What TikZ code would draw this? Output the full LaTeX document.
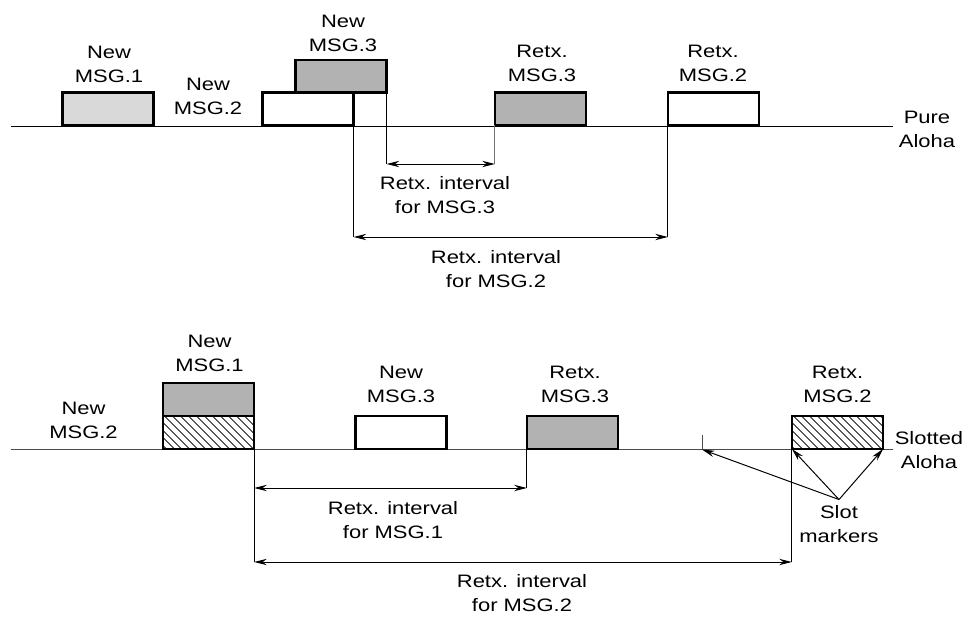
\documentclass[tikz,border=0pt]{standalone}
\usepackage{fontspec}
\setmainfont{Liberation Sans}[FakeStretch=1.22]
\usetikzlibrary{arrows.meta}
\usetikzlibrary{patterns.meta}
\tikzset{
	msgstyle/.style={draw=black, line width=1.6pt, minimum width=2.28cm, minimum height=0.82cm, inner sep=0pt, outer sep=0pt},
	whitestyle/.style={msgstyle, fill=white},
	lightstyle/.style={msgstyle, fill=black!15},
	darkstyle/.style={msgstyle, fill=black!30},
	hatchstyle/.style={msgstyle, pattern={Lines[angle=-45, distance=4pt, line width=0.6pt]}},
	labelstyle/.style={align=center, inner sep=1pt},
	thinline/.style={line width=0.7pt},
	>={Stealth[length=9pt, width=4.5pt]}
}

\begin{document}
\begin{tikzpicture}[x=0.025cm, y=-0.025cm, font=\fontsize{12.8}{17}\selectfont]
	\useasboundingbox (0,0) rectangle (970,617);
	% pure aloha
	\coordinate (pa) at (11,126);
	\coordinate (pb) at (893,126);
	\draw[thinline] (pa) -- (pb);
	\node[lightstyle] (n1) at (108,109) {};
	\node[whitestyle] (n2) at (308,109) {};
	\node[darkstyle, anchor=south] (n3) at (341,92.6) {};
	\node[darkstyle] (r3) at (540.5,109) {};
	\node[whitestyle] (r2) at (713.5,109) {};
	\node[labelstyle] (ln1) at (109,64) {New\\MSG.1};
	\node[labelstyle] (ln2) at (208,96) {New\\MSG.2};
	\node[labelstyle] (ln3) at (343,33) {New\\MSG.3};
	\node[labelstyle] (lr3) at (542,63) {Retx.\\MSG.3};
	\node[labelstyle] (lr2) at (713,63) {Retx.\\MSG.2};
	\node[labelstyle] (pure) at (927,129) {Pure\\Aloha};
	\coordinate (i3a) at (n3.south east |- 0,164);
	\coordinate (i3b) at (r3.south west |- 0,164);
	\coordinate (i2a) at (n2.south east |- 0,237);
	\coordinate (i2b) at (r2.south west |- 0,237);
	\draw[thinline] (n3.south east) -- (i3a);
	\draw[thinline, black!55] (r3.south west) -- (i3b);
	\draw[thinline, <->] (i3a) -- (i3b);
	\draw[thinline] (n2.south east) -- (i2a);
	\draw[thinline] (r2.south west) -- (i2b);
	\draw[thinline, <->] (i2a) -- (i2b);
	\node[labelstyle] (li3) at (445,195) {Retx. interval\\for MSG.3};
	\node[labelstyle] (li2) at (496,269) {Retx. interval\\for MSG.2};
	% slotted aloha
	\coordinate (sa) at (11,449.5);
	\coordinate (sb) at (893,449.5);
	\draw[thinline, black!70] (sa) -- (sb);
	\node[hatchstyle] (s2) at (208.5,432.5) {};
	\node[darkstyle, anchor=south] (s1) at (s2.north) {};
	\node[whitestyle] (s3) at (401,432.5) {};
	\node[darkstyle] (t3) at (572.5,432.5) {};
	\node[hatchstyle] (t2) at (837.5,432.5) {};
	\coordinate (tk) at (702,449.5);
	\draw[thinline, black!70] (tk) -- ++(0,-15);
	\node[labelstyle] (ls1) at (209.5,353) {New\\MSG.1};
	\node[labelstyle] (ls2) at (83.5,420) {New\\MSG.2};
	\node[labelstyle] (ls3) at (401,384) {New\\MSG.3};
	\node[labelstyle] (lt3) at (575,384) {Retx.\\MSG.3};
	\node[labelstyle] (lt2) at (837.5,384) {Retx.\\MSG.2};
	\node[labelstyle] (slotted) at (929,450) {Slotted\\Aloha};
	\coordinate (j1a) at (s2.south east |- 0,488);
	\coordinate (j1b) at (t3.south west |- 0,488);
	\coordinate (j2a) at (s2.south east |- 0,562);
	\coordinate (j2b) at (t2.south west |- 0,562);
	\draw[thinline] (s2.south east) -- (j2a);
	\draw[thinline] (t3.south west) -- (j1b);
	\draw[thinline] (t2.south west) -- (j2b);
	\draw[thinline, <->] (j1a) -- (j1b);
	\draw[thinline, <->] (j2a) -- (j2b);
	\node[labelstyle] (lj1) at (393,520) {Retx. interval\\for MSG.1};
	\node[labelstyle] (lj2) at (522,593) {Retx. interval\\for MSG.2};
	\node[labelstyle, inner sep=4pt] (slot) at (839,524) {Slot\\markers};
	\draw[thinline, ->] (slot.north) -- (tk);
	\draw[thinline, ->] (slot.north) -- (t2.south west);
	\draw[thinline, ->] (slot.north) -- (t2.south east);
\end{tikzpicture}
\end{document}
